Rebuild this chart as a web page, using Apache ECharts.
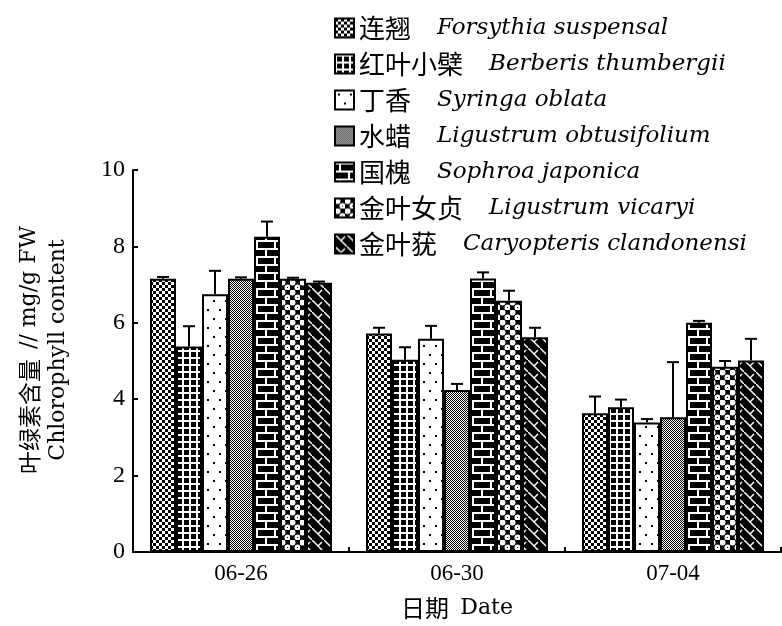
<!DOCTYPE html>
<html>
<head>
<meta charset="utf-8">
<script src="https://cdn.jsdelivr.net/npm/echarts@6/dist/echarts.min.js"></script>
<style>
  html, body { margin: 0; padding: 0; background: #fff; }
  #chart { width: 782px; height: 626px; }
</style>
</head>
<body>
<div id="chart"></div>
<script>
'use strict';
const dates = ['06-26', '06-30', '07-04'];
const cnNames = ['连翘', '红叶小檗', '丁香', '水蜡', '国槐', '金叶女贞', '金叶莸'];
const latinNames = ['Forsythia suspensal', 'Berberis thumbergii', 'Syringa oblata',
  'Ligustrum obtusifolium', 'Sophroa japonica', 'Ligustrum vicaryi', 'Caryopteris clandonensi'];
// means per species, one value per date
const means = [
  [7.15, 5.72, 3.63],
  [5.38, 5.03, 3.79],
  [6.75, 5.58, 3.39],
  [7.15, 4.24, 3.53],
  [8.25, 7.16, 6.00],
  [7.15, 6.58, 4.85],
  [7.05, 5.62, 5.01]
];
const errors = [
  [0.05, 0.15, 0.44],
  [0.53, 0.33, 0.20],
  [0.61, 0.34, 0.09],
  [0.04, 0.16, 1.44],
  [0.40, 0.16, 0.05],
  [0.03, 0.26, 0.15],
  [0.03, 0.25, 0.57]
];
const yTicks = [0, 2, 4, 6, 8, 10];

const BAR_W = 26;
const SERIF = '"Liberation Serif", "DejaVu Serif", serif';
const WIDE_SERIF = '"DejaVu Serif", serif';
const CJK = '"Noto Sans CJK SC", sans-serif';

function tile(w, h, draw) {
  const c = document.createElement('canvas');
  c.width = w;
  c.height = h;
  const ctx = c.getContext('2d');
  draw(ctx, w, h);
  return {image: c, repeat: 'repeat'};
}

const patterns = [
  // checkerboard
  tile(6, 6, (g) => {
    g.fillStyle = '#fff'; g.fillRect(0, 0, 6, 6);
    g.fillStyle = '#000'; g.fillRect(0, 0, 3, 3); g.fillRect(3, 3, 3, 3);
  }),
  // grid of white lines on black
  tile(7, 7, (g) => {
    g.fillStyle = '#000'; g.fillRect(0, 0, 7, 7);
    g.fillStyle = '#fff'; g.fillRect(0, 0, 2, 7); g.fillRect(0, 0, 7, 2);
  }),
  // sparse dots
  tile(12, 18, (g) => {
    g.fillStyle = '#fff'; g.fillRect(0, 0, 12, 18);
    g.fillStyle = '#000'; g.fillRect(3, 3, 2, 2); g.fillRect(9, 12, 2, 2);
  }),
  // fine mesh
  tile(2, 2, (g) => {
    g.fillStyle = '#fff'; g.fillRect(0, 0, 2, 2);
    g.fillStyle = '#000'; g.fillRect(0, 0, 1, 1); g.fillRect(1, 1, 1, 1);
  }),
  // brick
  tile(18, 16, (g) => {
    g.fillStyle = '#000'; g.fillRect(0, 0, 18, 16);
    g.fillStyle = '#fff';
    g.fillRect(0, 0, 18, 2); g.fillRect(0, 8, 18, 2);
    g.fillRect(4, 0, 2, 8); g.fillRect(13, 8, 2, 8);
  }),
  // round spots
  tile(10, 10, (g) => {
    g.fillStyle = '#000'; g.fillRect(0, 0, 10, 10);
    g.fillStyle = '#fff';
    g.beginPath(); g.arc(2.5, 2.5, 3, 0, Math.PI * 2); g.fill();
    g.beginPath(); g.arc(7.5, 7.5, 3, 0, Math.PI * 2); g.fill();
    g.fillStyle = '#000';
    g.fillRect(7, 7, 1, 1);
  }),
  // diagonal hatch
  tile(12, 12, (g) => {
    g.fillStyle = '#000'; g.fillRect(0, 0, 12, 12);
    g.strokeStyle = '#fff'; g.lineWidth = 1.5;
    g.beginPath(); g.moveTo(-1, -1); g.lineTo(13, 13); g.stroke();
    g.beginPath(); g.moveTo(6, 6); g.lineTo(10, 2); g.stroke();
  })
];

const barSeries = cnNames.map((n, i) => ({
  name: n,
  type: 'bar',
  barWidth: BAR_W,
  barGap: '0%',
  data: means[i],
  itemStyle: {color: patterns[i], borderColor: '#000', borderWidth: 2},
  emphasis: {disabled: true}
}));

const errData = [];
means.forEach((row, i) => {
  row.forEach((v, j) => errData.push([j, v, errors[i][j], i]));
});

const errSeries = {
  type: 'custom',
  silent: true,
  z: 5,
  data: errData,
  encode: {x: 0, y: 1},
  renderItem: function(params, api) {
    const idx = api.value(3);
    const off = (idx - (cnNames.length - 1) / 2) * BAR_W;
    const base = api.coord([api.value(0), api.value(1)]);
    const top = api.coord([api.value(0), api.value(1) + api.value(2)]);
    const x = base[0] + off;
    const style = {stroke: '#000', lineWidth: 2};
    return {
      type: 'group',
      children: [
        {type: 'line', shape: {x1: x, y1: base[1], x2: x, y2: top[1]}, style},
        {type: 'line', shape: {x1: x - 6, y1: top[1], x2: x + 6, y2: top[1]}, style}
      ]
    };
  }
};

const chart = echarts.init(document.getElementById('chart'));
chart.setOption({
  animation: false,
  grid: {left: 133, right: 1, top: 170, bottom: 74},
  legend: {
    orient: 'vertical',
    left: 329,
    top: 10,
    icon: 'rect',
    itemWidth: 19,
    itemHeight: 19,
    itemGap: 10,
    data: cnNames,
    formatter: function(name) {
      const i = cnNames.indexOf(name);
      return '{cn|' + name + '}{la|' + latinNames[i] + '}';
    },
    textStyle: {
      color: '#000',
      rich: {
        cn: {fontFamily: CJK, fontSize: 26, color: '#000', lineHeight: 25, padding: [0, 26, 0, 0]},
        la: {fontFamily: WIDE_SERIF, fontStyle: 'italic', fontSize: 23, color: '#000', lineHeight: 25}
      }
    }
  },
  xAxis: {
    type: 'category',
    data: dates,
    name: '{cn|日期} {la|Date}',
    nameLocation: 'middle',
    nameGap: 44,
    nameTextStyle: {
      color: '#000',
      rich: {
        cn: {fontFamily: CJK, fontSize: 24, color: '#000', padding: [0, 8, 0, 0]},
        la: {fontFamily: WIDE_SERIF, fontSize: 22, color: '#000'}
      }
    },
    axisLine: {lineStyle: {color: '#000', width: 2}},
    axisTick: {show: true, inside: true, length: 5, lineStyle: {color: '#000', width: 2}},
    axisLabel: {fontFamily: SERIF, fontSize: 23, color: '#000', margin: 10}
  },
  yAxis: {
    type: 'value',
    min: yTicks[0],
    max: yTicks[yTicks.length - 1],
    interval: 2,
    name: '{cn|叶绿素含量}{la|// mg/g FW}\n{la|Chlorophyll content}',
    nameLocation: 'middle',
    nameGap: 60,
    nameRotate: 90,
    nameTextStyle: {
      color: '#000',
      padding: [0, 0, 0, 22],
      rich: {
        cn: {fontFamily: CJK, fontSize: 23, color: '#000', lineHeight: 29, padding: [0, 10, 0, 0]},
        la: {fontFamily: WIDE_SERIF, fontSize: 22, color: '#000', lineHeight: 29}
      }
    },
    axisLine: {show: true, lineStyle: {color: '#000', width: 2}},
    axisTick: {show: true, inside: true, length: 5, lineStyle: {color: '#000', width: 2}},
    axisLabel: {fontFamily: SERIF, fontSize: 24, color: '#000', margin: 8},
    splitLine: {show: false}
  },
  series: barSeries.concat([errSeries])
});
</script>
</body>
</html>
